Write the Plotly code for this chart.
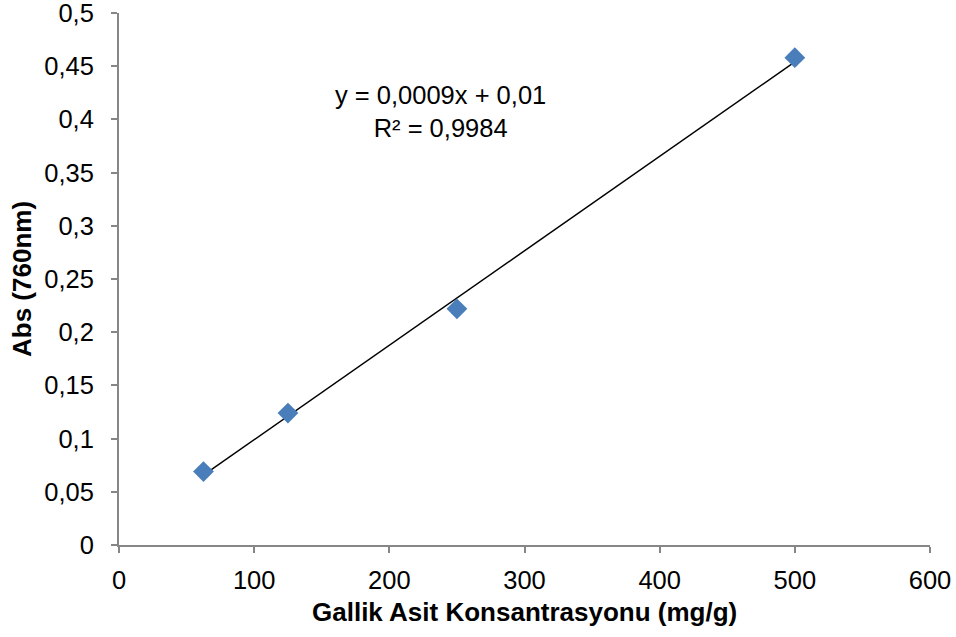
import numpy as np
import plotly.graph_objects as go

# Data
conc = [62.5, 125, 250, 500]
absorb = [0.069, 0.124, 0.222, 0.458]
x_ticks = [0, 100, 200, 300, 400, 500, 600]
y_ticks = [0, 0.05, 0.1, 0.15, 0.2, 0.25, 0.3, 0.35, 0.4, 0.45, 0.5]
eq_text = "y = 0,0009x + 0,01<br>R² = 0,9984"
x_title = "<b>Gallik Asit Konsantrasyonu (mg/g)</b>"
y_title = "<b>Abs (760nm)</b>"

slope, intercept = np.polyfit(conc, absorb, 1)
trend_x = [min(conc), max(conc)]
trend_y = [slope * v + intercept for v in trend_x]

FONT = "Liberation Sans, Arial, sans-serif"
AX = "#868686"
FS = 25.5

fig = go.Figure()
fig.add_trace(go.Scatter(x=trend_x, y=trend_y, mode="lines",
                         line=dict(color="black", width=1.5), showlegend=False))
fig.add_trace(go.Scatter(x=conc, y=absorb, mode="markers",
                         marker=dict(symbol="diamond", size=16, color="#4a7ebb"),
                         showlegend=False))

fig.add_annotation(x=0.397, y=1.0 - (111 - 13) / 532, xref="paper", yref="paper",
                   xanchor="center", yanchor="middle",
                   text=eq_text, showarrow=False, align="center",
                   font=dict(family=FONT, size=FS, color="black"))
fig.add_annotation(x=0.5, y=0, xref="paper", yref="paper", yanchor="middle",
                   yshift=-67, text=x_title, showarrow=False,
                   font=dict(family=FONT, size=FS + 0.5, color="black"))
fig.add_annotation(x=0, y=0.5, xref="paper", yref="paper", xanchor="center",
                   xshift=-97, textangle=-90, text=y_title, showarrow=False,
                   font=dict(family=FONT, size=FS + 0.5, color="black"))

fig.update_layout(
    width=956, height=637,
    margin=dict(l=119, r=26, t=13, b=92),
    paper_bgcolor="white", plot_bgcolor="white",
    separators=", ",
    font=dict(family=FONT, size=FS, color="black"),
    xaxis=dict(range=[0, 600], tickvals=x_ticks, showgrid=False, zeroline=False,
               showline=True, linecolor=AX, linewidth=2, ticks="outside",
               ticklen=6, tickcolor=AX, tickwidth=2, automargin=False,
               tickfont=dict(size=FS), ticklabelstandoff=5,
               ticklabeloverflow="allow"),
    yaxis=dict(range=[0, 0.5], tickvals=y_ticks, showgrid=False, zeroline=False,
               showline=True, linecolor=AX, linewidth=2, ticks="outside",
               ticklen=6, tickcolor=AX, tickwidth=2, automargin=False,
               tickfont=dict(size=FS), ticklabelstandoff=12,
               ticklabeloverflow="allow"),
)

fig.write_html("out.html")
